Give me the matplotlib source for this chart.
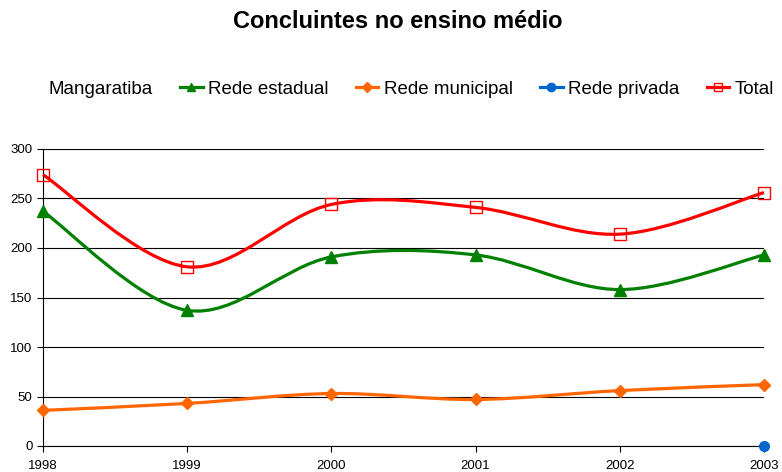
import numpy as np
import matplotlib.pyplot as plt
from matplotlib.path import Path
from matplotlib.patches import PathPatch
from matplotlib.lines import Line2D

plt.rcParams['font.family'] = ['Liberation Sans', 'DejaVu Sans']

anos = [1998, 1999, 2000, 2001, 2002, 2003]
estadual = [237, 137, 191, 193, 158, 193]
municipal = [36, 43, 53, 47, 56, 62]
privada = [None, None, None, None, None, 0]
total = [274, 181, 244, 241, 214, 256]
nomes = ['Rede estadual', 'Rede municipal', 'Rede privada', 'Total']


def smooth_path(x, y):
    # curva suavizada tipo Excel (bezier cubica)
    p = np.column_stack([x, y]).astype(float)
    n = len(p)
    verts = [p[0]]
    codes = [Path.MOVETO]
    for i in range(n - 1):
        p0 = p[i - 1] if i > 0 else p[i]
        p3 = p[i + 2] if i + 2 < n else p[i + 1]
        c1 = p[i] + (p[i + 1] - p0) / 6
        c2 = p[i + 1] - (p3 - p[i]) / 6
        verts += [c1, c2, p[i + 1]]
        codes += [Path.CURVE4] * 3
    return Path(verts, codes)


fig = plt.figure(figsize=(7.82, 4.72), dpi=100)
ax = fig.add_axes([43 / 782, 1 - 446 / 472, (764 - 43) / 782, (446 - 149) / 472])

series = [
    (estadual, 'green', '^', dict(markersize=8)),
    (municipal, '#ff6600', 'D', dict(markersize=6.5)),
    (total, 'red', 's', dict(markersize=8, markerfacecolor='none', markeredgewidth=1)),
]

handles = []
for vals, cor, mk, kw in series:
    ax.add_patch(PathPatch(smooth_path(anos, vals), fill=False, edgecolor=cor,
                           lw=2.3, transform=ax.transData, zorder=3, clip_on=False))
    ax.plot(anos, vals, linestyle='none', marker=mk, color=cor, zorder=4, clip_on=False, **kw)
    kw_leg = dict(kw)
    kw_leg['markersize'] = kw['markersize'] * 0.8
    handles.append(Line2D([], [], color=cor, lw=2.3, marker=mk, **kw_leg))

priv = np.array([np.nan if v is None else v for v in privada], dtype=float)
ax.plot(anos, priv, linestyle='none', marker='o', markersize=7, color='#0066cc', zorder=5, clip_on=False)
handles.insert(2, Line2D([], [], color='#0066cc', lw=2.3, marker='o', markersize=6))

ax.set_xlim(1998, 2003)
ax.set_ylim(0, 300)
ax.set_xticks(anos)
ax.set_yticks(range(0, 301, 50))
ax.yaxis.grid(True, color='black', lw=0.8)
ax.set_axisbelow(True)
for s in ['top', 'right']:
    ax.spines[s].set_visible(False)
ax.tick_params(labelsize=9.5, length=4, width=0.8, color='black')
ax.tick_params(axis='x', pad=6)

fig.text(398 / 782, 1 - 22 / 472, 'Concluintes no ensino médio', ha='center', va='center',
         fontsize=17, fontweight='bold')
fig.text(48 / 782, 1 - 89 / 472, 'Mangaratiba', ha='left', va='center', fontsize=13.5)
fig.legend(handles, nomes,
           loc='center left', bbox_to_anchor=(180 / 782, 1 - 89 / 472), ncol=4, frameon=False,
           fontsize=13.5, handlelength=1.2, handletextpad=0.3, columnspacing=1.45, borderaxespad=0,
           borderpad=0)

fig.savefig('out.png', dpi=100)
